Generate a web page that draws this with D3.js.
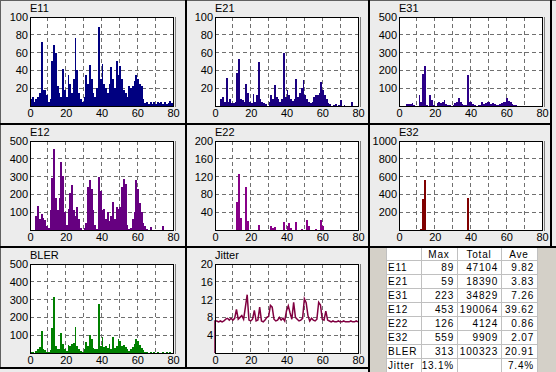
<!DOCTYPE html>
<html>
<head>
<meta charset="utf-8">
<script src="https://cdn.jsdelivr.net/npm/d3@7"></script>
<style>
  body { margin: 0; background: #ececec; }
  svg { display: block; font-family: "Liberation Sans", Arial, sans-serif; }
</style>
</head>
<body>
<svg id="chart" width="556" height="372"></svg>
<script>
const xTicks = [0, 20, 40, 60, 80];
const xGrid = [10, 20, 30, 40, 50, 60, 70];

// one value per unit bin, 0..79
const e11 = [8, 10, 4, 8, 10, 15, 72, 18, 18, 12, 5, 8, 51, 69, 60, 22, 15, 10, 42, 18,
  10, 35, 25, 15, 30, 76, 40, 15, 8, 5, 10, 35, 25, 46, 30, 15, 10, 20, 89, 30,
  47, 25, 20, 15, 25, 44, 30, 20, 51, 35, 45, 30, 18, 15, 10, 22, 20, 22, 28, 35,
  30, 25, 22, 8, 3, 5, 2, 4, 2, 5, 2, 5, 3, 5, 2, 4, 2, 3, 6, 3];
const e21 = [0, 0, 0, 8, 10, 5, 32, 5, 8, 3, 3, 5, 37, 53, 8, 7, 5, 25, 15, 5,
  3, 14, 5, 12, 49, 8, 5, 3, 2, 0, 5, 12, 8, 24, 10, 8, 5, 8, 59, 10,
  18, 12, 8, 6, 8, 30, 10, 15, 20, 29, 12, 8, 5, 3, 5, 10, 12, 12, 15, 27,
  18, 12, 8, 3, 2, 0, 1, 2, 0, 1, 7, 0, 1, 0, 0, 0, 4, 0, 0, 0];
const e31 = [0, 0, 0, 0, 10, 12, 10, 15, 3, 0, 0, 60, 20, 180, 223, 5, 0, 60, 35, 5,
  0, 15, 20, 15, 20, 35, 10, 5, 3, 0, 5, 15, 25, 45, 25, 10, 5, 5, 175, 25,
  25, 10, 5, 0, 3, 5, 20, 10, 15, 20, 25, 10, 15, 12, 5, 5, 10, 15, 20, 25,
  45, 30, 20, 10, 5, 3, 0, 2, 0, 1, 0, 2, 0, 0, 1, 0, 0, 2, 0, 0];
const e12 = [0, 0, 0, 80, 135, 60, 90, 70, 55, 20, 10, 115, 290, 453, 180, 110, 180, 380, 305, 100,
  30, 120, 210, 255, 110, 80, 130, 60, 10, 0, 10, 40, 240, 280, 230, 110, 30, 5, 300, 220,
  110, 120, 60, 100, 50, 80, 160, 60, 130, 120, 130, 240, 285, 260, 30, 5, 10, 60, 100, 280,
  230, 150, 100, 40, 20, 5, 0, 15, 0, 0, 0, 0, 0, 0, 25, 0, 0, 0, 0, 0];
const e22 = [0, 0, 0, 0, 0, 0, 0, 0, 0, 0, 0, 0, 62, 126, 28, 0, 0, 97, 20, 0,
  0, 0, 0, 0, 12, 0, 0, 0, 0, 0, 0, 8, 4, 6, 0, 0, 0, 0, 17, 0,
  10, 15, 5, 0, 0, 17, 0, 0, 3, 0, 0, 23, 10, 0, 0, 0, 3, 0, 0, 22,
  8, 0, 0, 0, 0, 0, 0, 0, 0, 0, 0, 0, 0, 0, 0, 0, 0, 0, 0, 0];
const e32 = [0, 0, 0, 0, 0, 0, 0, 0, 0, 0, 0, 0, 15, 345, 559, 0, 0, 0, 0, 0,
  0, 0, 0, 0, 0, 0, 0, 0, 0, 0, 0, 0, 0, 0, 0, 0, 0, 0, 355, 0,
  0, 0, 0, 0, 0, 0, 0, 0, 0, 0, 0, 0, 0, 0, 0, 0, 0, 0, 0, 0,
  0, 0, 0, 0, 0, 0, 0, 0, 0, 0, 0, 0, 0, 0, 0, 0, 0, 0, 0, 0];
const bler = [5, 3, 2, 10, 20, 35, 125, 20, 15, 5, 3, 15, 140, 313, 40, 25, 20, 115, 50, 20,
  10, 45, 40, 50, 55, 145, 40, 20, 10, 5, 20, 60, 40, 100, 80, 30, 20, 25, 275, 40,
  90, 35, 40, 30, 50, 20, 90, 30, 40, 80, 70, 40, 45, 35, 25, 10, 20, 35, 50, 80,
  65, 45, 30, 15, 5, 3, 2, 3, 2, 3, 2, 3, 2, 2, 3, 2, 3, 2, 3, 2];
// jitter, one value per unit 0..80, line starts from jitterStart at 0
const jitterStart = 0;
const jitter = [7.2, 7.2, 7.0, 7.2, 7.0, 7.2, 7.6, 7.8, 7.4, 7.8, 7.4, 7.8, 9.8, 7.6, 8.0, 8.4, 7.6, 10.3, 13.1, 7.4,
  7.2, 7.6, 9.6, 7.2, 7.4, 10.3, 7.2, 7.0, 7.4, 8.0, 8.2, 10.7, 10.3, 7.6, 7.2, 7.4, 8.0, 7.4, 7.8, 7.2,
  9.5, 10.6, 9.0, 7.6, 11.4, 8.0, 7.6, 7.2, 7.4, 7.8, 12.2, 11.3, 8.4, 7.2, 7.8, 7.4, 7.2, 7.6, 11.4, 10.8,
  7.6, 7.4, 9.4, 7.4, 7.2, 7.0, 7.2, 7.0, 7.0, 7.2, 7.0, 7.0, 7.2, 7.0, 7.0, 7.0, 7.2, 7.0, 7.0, 7.2, 7.0];

const names = ["E11", "E21", "E31", "E12", "E22", "E32", "BLER", "Jitter"];
const seriesList = [e11, e21, e31, e12, e22, e32, bler, jitter];
const yMaxes = [100, 100, 500, 500, 200, 1000, 500, 20];
const yTicks = [
  [20, 40, 60, 80, 100], [20, 40, 60, 80, 100], [100, 200, 300, 400, 500],
  [100, 200, 300, 400, 500], [40, 80, 120, 160, 200], [200, 400, 600, 800, 1000],
  [100, 200, 300, 400, 500], [4, 8, 12, 16, 20]
];

const tableHead = ["", "Max", "Total", "Ave"];
const tableNames = ["E11", "E21", "E31", "E12", "E22", "E32", "BLER", "Jitter"];
const tableMax = ["89", "59", "223", "453", "126", "559", "313", "13.1%"];
const tableTotal = ["47104", "18390", "34829", "190064", "4124", "9909", "100323", ""];
const tableAve = ["9.82", "3.83", "7.26", "39.62", "0.86", "2.07", "20.91", "7.4%"];

const colors = ["#000080", "#1a0080", "#2c0088", "#660080", "#880088", "#800000", "#008000", "#800040"];

const svg = d3.select("#chart");
const colLeft = [30, 215, 399];
const rowTop = [17, 141, 264];
const plotW = 143, plotH = 89;

svg.append("rect").attr("width", 556).attr("height", 372).attr("fill", "#ececec");
// table area background
svg.append("rect").attr("x", 370).attr("y", 248).attr("width", 186).attr("height", 124).attr("fill", "#d4d0c8");

names.forEach((name, i) => {
  const px = colLeft[i % 3], py = rowTop[Math.floor(i / 3)];
  const x = d3.scaleLinear().domain([0, 80]).range([px, px + plotW]);
  const y = d3.scaleLinear().domain([0, yMaxes[i]]).range([py + plotH, py]);
  const g = svg.append("g");

  g.append("rect")
    .attr("x", px).attr("y", py)
    .attr("width", plotW).attr("height", plotH)
    .attr("fill", "#fff");

  // dashed grid
  g.selectAll(".vgrid").data(xGrid).join("line")
    .attr("x1", d => x(d)).attr("x2", d => x(d))
    .attr("y1", py).attr("y2", py + plotH)
    .attr("stroke", "#707070").attr("stroke-dasharray", "4,3")
    .attr("shape-rendering", "crispEdges");
  g.selectAll(".hgrid").data(yTicks[i].slice(0, -1)).join("line")
    .attr("x1", px).attr("x2", px + plotW)
    .attr("y1", d => y(d)).attr("y2", d => y(d))
    .attr("stroke", "#707070").attr("stroke-dasharray", "4,3")
    .attr("shape-rendering", "crispEdges");

  const values = seriesList[i];
  if (name === "Jitter") {
    const pts = [[0, jitterStart]].concat(values.map((v, j) => [j, v]));
    const line = d3.line()
      .x(d => x(d[0]))
      .y(d => y(d[1]));
    g.append("path")
      .attr("d", line(pts))
      .attr("fill", "none")
      .attr("stroke", colors[i])
      .attr("stroke-width", 1.5);
  } else {
    g.selectAll(".bar").data(values).join("rect")
      .attr("x", (d, j) => x(j))
      .attr("width", x(1) - x(0))
      .attr("y", d => y(d))
      .attr("height", d => y(0) - y(d))
      .attr("fill", colors[i])
      .attr("shape-rendering", "crispEdges");
  }

  // frame + right shadow
  g.append("rect")
    .attr("x", px).attr("y", py)
    .attr("width", plotW).attr("height", plotH)
    .attr("fill", "none").attr("stroke", "#000")
    .attr("shape-rendering", "crispEdges");
  g.append("line")
    .attr("x1", px + plotW + 2).attr("x2", px + plotW + 2)
    .attr("y1", py).attr("y2", py + plotH + 1)
    .attr("stroke", "#808080")
    .attr("shape-rendering", "crispEdges");

  g.append("g")
    .attr("transform", `translate(${px},0)`)
    .call(d3.axisLeft(y).tickValues(yTicks[i]).tickFormat(d3.format("d")).tickSize(0).tickPadding(2))
    .call(a => a.select(".domain").remove())
    .attr("font-size", 11).attr("font-family", "Liberation Sans, Arial, sans-serif");

  g.append("g")
    .attr("transform", `translate(0,${py + plotH})`)
    .call(d3.axisBottom(x).tickValues(xTicks).tickSize(0).tickPadding(3))
    .call(a => a.select(".domain").remove())
    .attr("font-size", 11).attr("font-family", "Liberation Sans, Arial, sans-serif");

  g.append("text")
    .attr("x", px).attr("y", py - 5)
    .attr("font-size", 11)
    .text(name);
});

// panel borders
const borders = [
  [0, 0, 556, 1, "#606060"], [0, 0, 1, 369, "#606060"],
  [185, 0, 2, 369, "#000"], [368, 0, 2, 372, "#000"], [550, 0, 2, 248, "#000"],
  [0, 123, 552, 2, "#000"], [0, 246, 556, 2, "#000"], [0, 367, 370, 2, "#000"]
];
svg.selectAll(".border").data(borders).join("rect")
  .attr("x", d => d[0]).attr("y", d => d[1])
  .attr("width", d => d[2]).attr("height", d => d[3])
  .attr("fill", d => d[4]);

// stats table
const colX = [386, 421, 457, 501, 537];
const headTop = 248, headH = 12, rowH = 14;
const rowY = d3.range(tableNames.length + 1).map(k => headTop + headH + k * rowH);
const table = svg.append("g")
  .attr("font-family", "Liberation Sans, Arial, sans-serif")
  .attr("font-size", 10)
  .attr("letter-spacing", 0.8);

table.append("rect")
  .attr("x", colX[0]).attr("y", headTop)
  .attr("width", colX[4] - colX[0]).attr("height", 372 - headTop)
  .attr("fill", "#fff");
table.selectAll(".vline").data(colX).join("line")
  .attr("x1", d => d).attr("x2", d => d)
  .attr("y1", headTop).attr("y2", 372)
  .attr("stroke", "#c0c0c0").attr("shape-rendering", "crispEdges");
table.selectAll(".hline").data(rowY).join("line")
  .attr("x1", colX[0]).attr("x2", colX[4])
  .attr("y1", d => d).attr("y2", d => d)
  .attr("stroke", "#c0c0c0").attr("shape-rendering", "crispEdges");

table.selectAll(".head").data(tableHead).join("text")
  .attr("x", (d, k) => (colX[k] + colX[k + 1]) / 2)
  .attr("y", headTop + 10)
  .attr("text-anchor", "middle")
  .text(d => d);

tableNames.forEach((n, r) => {
  const by = rowY[r] + 11;
  table.append("text").attr("x", colX[0] + 2).attr("y", by).text(n);
  [tableMax[r], tableTotal[r], tableAve[r]].forEach((v, c) => {
    table.append("text")
      .attr("x", colX[c + 2] - 3).attr("y", by)
      .attr("text-anchor", "end")
      .text(v);
  });
});
</script>
</body>
</html>
